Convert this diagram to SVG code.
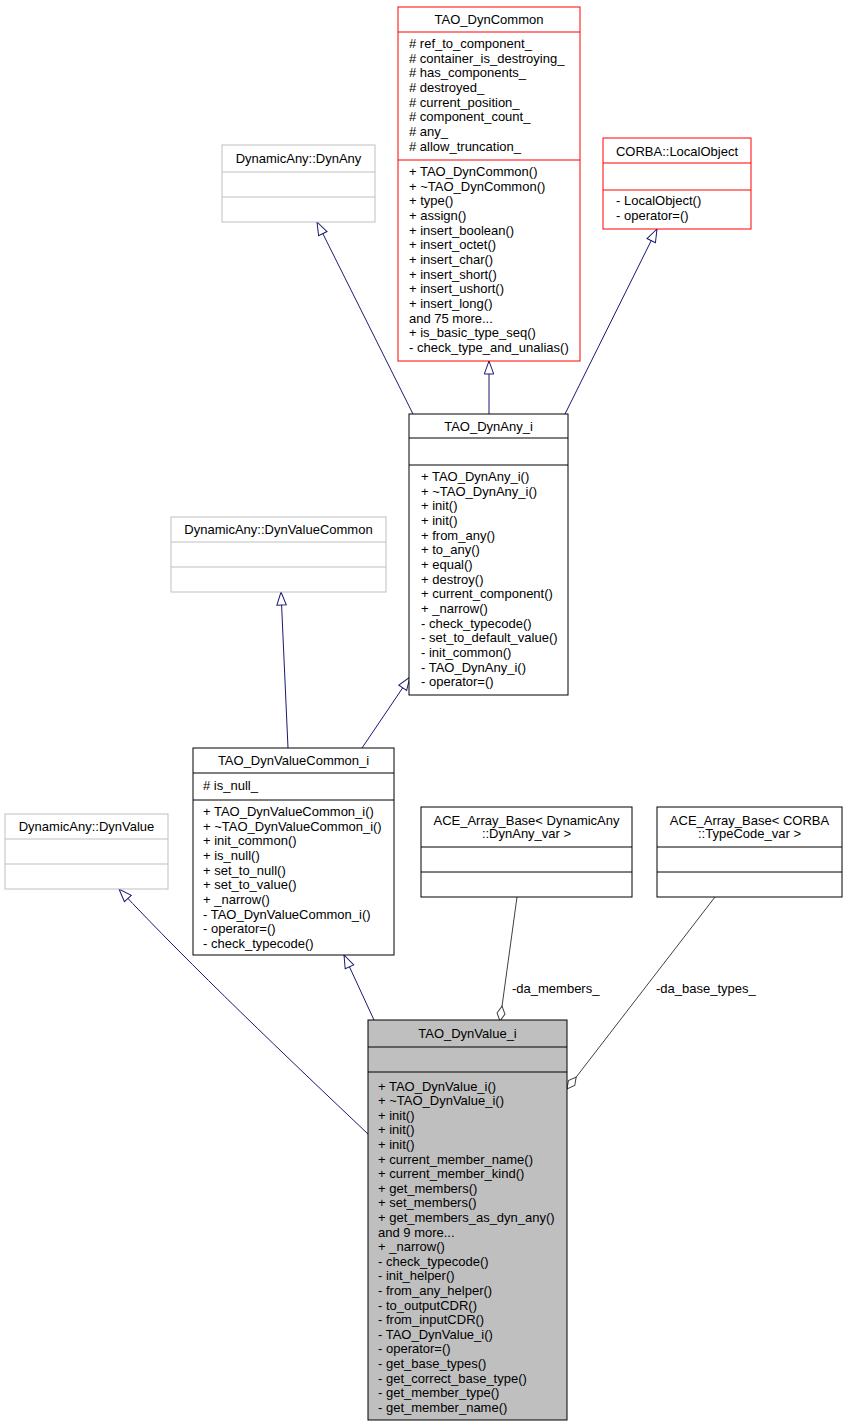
<svg xmlns="http://www.w3.org/2000/svg" width="848" height="1427" viewBox="0 0 848 1427">
<style>
text{font-family:"Liberation Sans",Arial,Helvetica,sans-serif;font-size:13px;fill:#000}
.c{text-anchor:middle}
.box{fill:#fff;stroke:#000;stroke-width:1}
.red{fill:#fff;stroke:#ff0000;stroke-width:1}
.gray{fill:#fff;stroke:#bfbfbf;stroke-width:1}
.sel{fill:#bfbfbf;stroke:#000;stroke-width:1}
.inh{fill:none;stroke:#191970;stroke-width:1}
.agg{fill:none;stroke:#404040;stroke-width:1}
</style>
<defs>
<marker id="tri" viewBox="-1 -6 15 12" refX="13" refY="0" markerWidth="15" markerHeight="12" markerUnits="userSpaceOnUse" orient="auto">
<path d="M0,-4.7 L13,0 L0,4.7 z" fill="#fff" stroke="#191970" stroke-width="1"/>
</marker>
<marker id="dia" viewBox="-1 -5 17 10" refX="15" refY="0" markerWidth="17" markerHeight="10" markerUnits="userSpaceOnUse" orient="auto">
<path d="M0,0 L7.5,-4 L15,0 L7.5,4 z" fill="#fff" stroke="#404040" stroke-width="1"/>
</marker>
</defs>
<rect width="848" height="1427" fill="#fff"/>

<g id="connectors">
<path class="inh" d="M413,414 L317,222" marker-end="url(#tri)"/>
<path class="inh" d="M489,414 L489,361" marker-end="url(#tri)"/>
<path class="inh" d="M565,414 L657,229" marker-end="url(#tri)"/>
<path class="inh" d="M288,748 L281,592" marker-end="url(#tri)"/>
<path class="inh" d="M362,748 L410,677" marker-end="url(#tri)"/>
<path class="inh" d="M368,1134 C290,1060 190,965 119,889" marker-end="url(#tri)"/>
<path class="inh" d="M374,1020 L344,955" marker-end="url(#tri)"/>
<path class="agg" d="M517,897 L500,1021" marker-end="url(#dia)"/>
<path class="agg" d="M715,897 L567,1089" marker-end="url(#dia)"/>
<text x="512" y="993">-da_members_</text>
<text x="656" y="993">-da_base_types_</text>
</g>

<g id="TAO_DynCommon">
<rect class="red" x="398" y="7" width="182" height="354"/>
<path d="M398,32 H580 M398,160 H580" stroke="#ff0000"/>
<text class="c" x="489" y="24">TAO_DynCommon</text>
<text x="409" y="48"># ref_to_component_</text>
<text x="409" y="62.7"># container_is_destroying_</text>
<text x="409" y="77.3"># has_components_</text>
<text x="409" y="92"># destroyed_</text>
<text x="409" y="106.7"># current_position_</text>
<text x="409" y="121.3"># component_count_</text>
<text x="409" y="136"># any_</text>
<text x="409" y="150.7"># allow_truncation_</text>
<text x="409" y="176">+ TAO_DynCommon()</text>
<text x="409" y="190.7">+ ~TAO_DynCommon()</text>
<text x="409" y="205.3">+ type()</text>
<text x="409" y="220">+ assign()</text>
<text x="409" y="234.7">+ insert_boolean()</text>
<text x="409" y="249.3">+ insert_octet()</text>
<text x="409" y="264">+ insert_char()</text>
<text x="409" y="278.7">+ insert_short()</text>
<text x="409" y="293.3">+ insert_ushort()</text>
<text x="409" y="308">+ insert_long()</text>
<text x="409" y="322.7">and 75 more...</text>
<text x="409" y="337.3">+ is_basic_type_seq()</text>
<text x="409" y="352">- check_type_and_unalias()</text>
</g>

<g id="DynamicAny_DynAny">
<rect class="gray" x="222" y="145" width="153" height="77"/>
<path d="M222,172 H375 M222,197 H375" stroke="#bfbfbf"/>
<text class="c" x="298.5" y="163">DynamicAny::DynAny</text>
</g>

<g id="CORBA_LocalObject">
<rect class="red" x="603" y="138" width="148" height="91"/>
<path d="M603,163 H751 M603,190 H751" stroke="#ff0000"/>
<text class="c" x="677" y="155.5">CORBA::LocalObject</text>
<text x="616" y="205">- LocalObject()</text>
<text x="616" y="219.7">- operator=()</text>
</g>

<g id="TAO_DynAny_i">
<rect class="box" x="409" y="414" width="159" height="281"/>
<path d="M409,438 H568 M409,465 H568" stroke="#000"/>
<text class="c" x="488.5" y="430.5">TAO_DynAny_i</text>
<text x="421" y="481">+ TAO_DynAny_i()</text>
<text x="421" y="495.7">+ ~TAO_DynAny_i()</text>
<text x="421" y="510.3">+ init()</text>
<text x="421" y="525">+ init()</text>
<text x="421" y="539.7">+ from_any()</text>
<text x="421" y="554.3">+ to_any()</text>
<text x="421" y="569">+ equal()</text>
<text x="421" y="583.7">+ destroy()</text>
<text x="421" y="598.3">+ current_component()</text>
<text x="421" y="613">+ _narrow()</text>
<text x="421" y="627.7">- check_typecode()</text>
<text x="421" y="642.3">- set_to_default_value()</text>
<text x="421" y="657">- init_common()</text>
<text x="421" y="671.7">- TAO_DynAny_i()</text>
<text x="421" y="686.3">- operator=()</text>
</g>

<g id="DynamicAny_DynValueCommon">
<rect class="gray" x="171" y="517" width="215" height="75"/>
<path d="M171,542 H386 M171,567 H386" stroke="#bfbfbf"/>
<text class="c" x="278.5" y="534">DynamicAny::DynValueCommon</text>
</g>

<g id="TAO_DynValueCommon_i">
<rect class="box" x="193" y="748" width="201" height="207"/>
<path d="M193,773 H394 M193,800 H394" stroke="#000"/>
<text class="c" x="293.5" y="765">TAO_DynValueCommon_i</text>
<text x="203" y="790"># is_null_</text>
<text x="203" y="816">+ TAO_DynValueCommon_i()</text>
<text x="203" y="830.7">+ ~TAO_DynValueCommon_i()</text>
<text x="203" y="845.3">+ init_common()</text>
<text x="203" y="860">+ is_null()</text>
<text x="203" y="874.7">+ set_to_null()</text>
<text x="203" y="889.3">+ set_to_value()</text>
<text x="203" y="904">+ _narrow()</text>
<text x="203" y="918.7">- TAO_DynValueCommon_i()</text>
<text x="203" y="933.3">- operator=()</text>
<text x="203" y="948">- check_typecode()</text>
</g>

<g id="DynamicAny_DynValue">
<rect class="gray" x="5" y="814" width="163" height="75"/>
<path d="M5,839 H168 M5,864 H168" stroke="#bfbfbf"/>
<text class="c" x="86.5" y="831">DynamicAny::DynValue</text>
</g>

<g id="ACE_Array_Base_DynAny_var">
<rect class="box" x="421" y="807" width="211" height="90"/>
<path d="M421,847 H632 M421,872 H632" stroke="#000"/>
<text class="c" x="526.5" y="824.5">ACE_Array_Base&lt; DynamicAny</text>
<text class="c" x="526.5" y="838">::DynAny_var &gt;</text>
</g>

<g id="ACE_Array_Base_TypeCode_var">
<rect class="box" x="657" y="807" width="185" height="90"/>
<path d="M657,847 H842 M657,872 H842" stroke="#000"/>
<text class="c" x="749.5" y="824.5">ACE_Array_Base&lt; CORBA</text>
<text class="c" x="749.5" y="838">::TypeCode_var &gt;</text>
</g>

<g id="TAO_DynValue_i">
<rect class="sel" x="368" y="1020" width="199" height="400"/>
<path d="M368,1047 H567 M368,1072 H567" stroke="#000"/>
<text class="c" x="467.5" y="1038">TAO_DynValue_i</text>
<text x="378" y="1090.5">+ TAO_DynValue_i()</text>
<text x="378" y="1105.1">+ ~TAO_DynValue_i()</text>
<text x="378" y="1119.7">+ init()</text>
<text x="378" y="1134.3">+ init()</text>
<text x="378" y="1148.9">+ init()</text>
<text x="378" y="1163.5">+ current_member_name()</text>
<text x="378" y="1178.1">+ current_member_kind()</text>
<text x="378" y="1192.7">+ get_members()</text>
<text x="378" y="1207.3">+ set_members()</text>
<text x="378" y="1221.9">+ get_members_as_dyn_any()</text>
<text x="378" y="1236.5">and 9 more...</text>
<text x="378" y="1251.1">+ _narrow()</text>
<text x="378" y="1265.7">- check_typecode()</text>
<text x="378" y="1280.3">- init_helper()</text>
<text x="378" y="1294.9">- from_any_helper()</text>
<text x="378" y="1309.5">- to_outputCDR()</text>
<text x="378" y="1324.1">- from_inputCDR()</text>
<text x="378" y="1338.7">- TAO_DynValue_i()</text>
<text x="378" y="1353.3">- operator=()</text>
<text x="378" y="1367.9">- get_base_types()</text>
<text x="378" y="1382.5">- get_correct_base_type()</text>
<text x="378" y="1397.1">- get_member_type()</text>
<text x="378" y="1411.7">- get_member_name()</text>
</g>
</svg>
